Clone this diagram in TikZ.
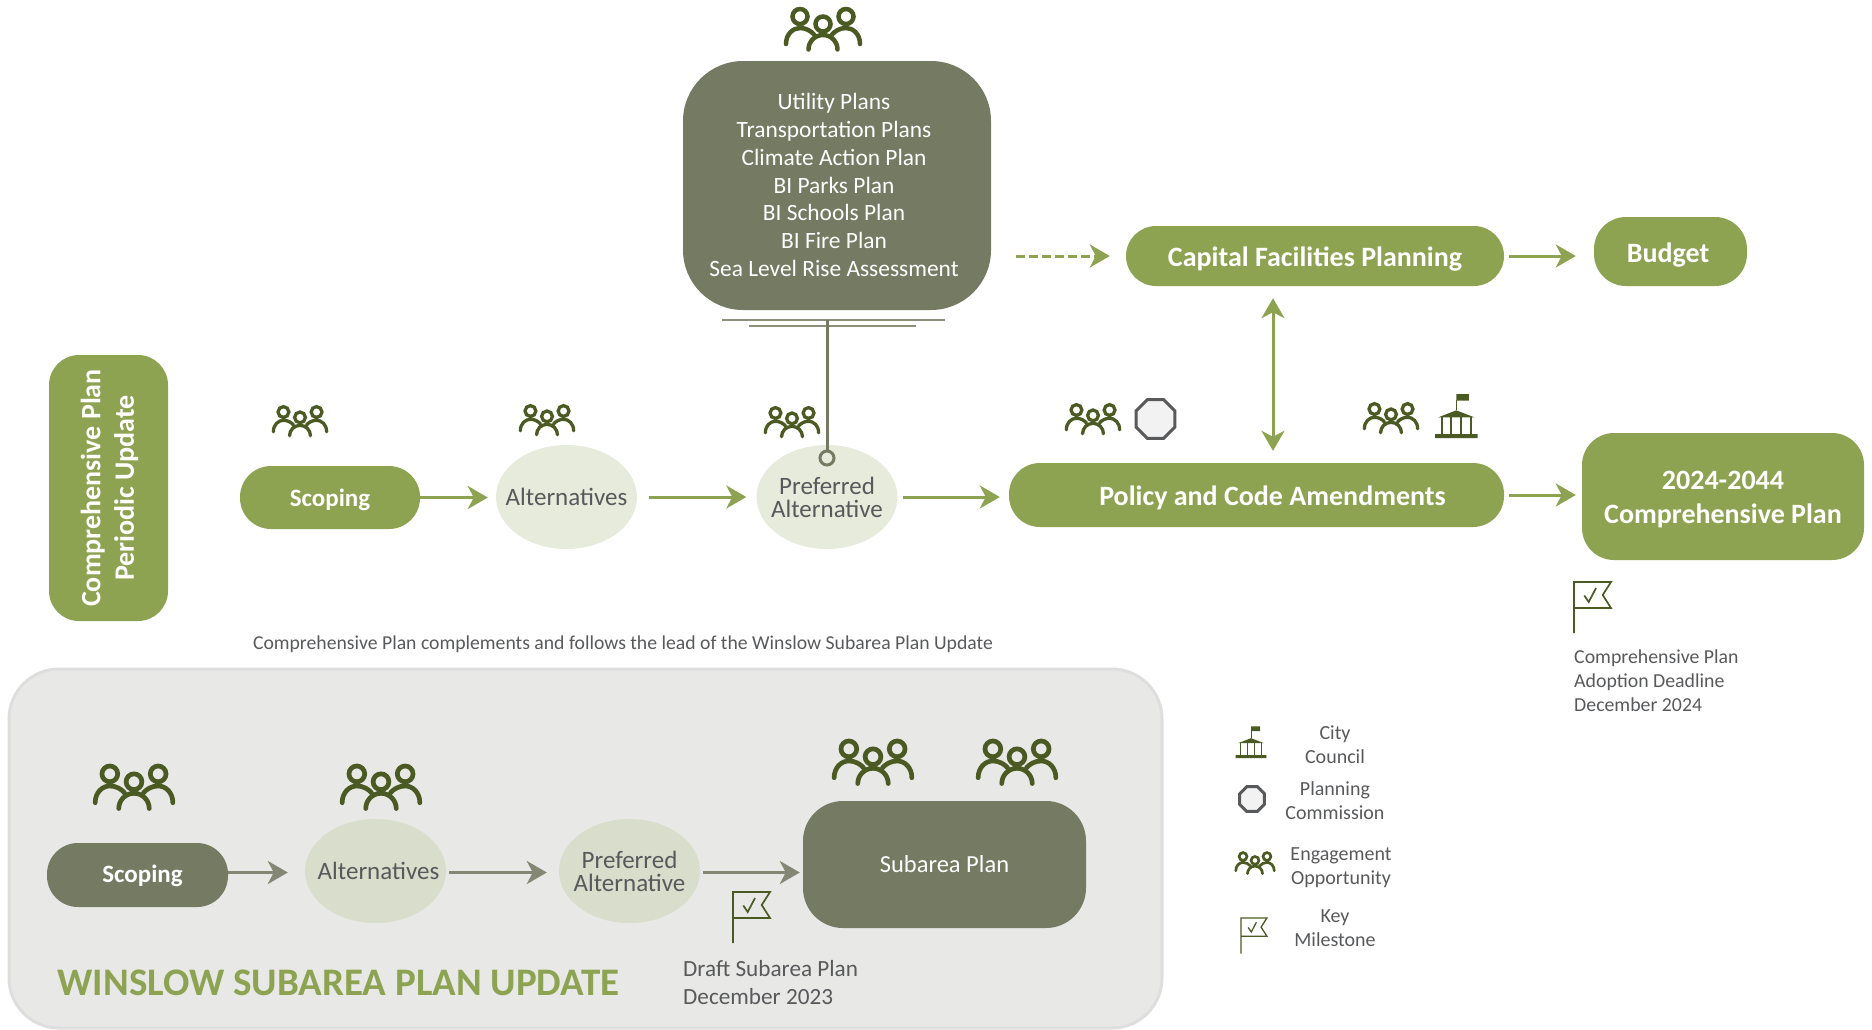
\documentclass[tikz,border=0pt]{standalone}
\usepackage{fontspec}
\setmainfont{Carlito}
\usetikzlibrary{arrows.meta,shapes.geometric}
\definecolor{leaf}{HTML}{8DA352}
\definecolor{olive}{HTML}{757A63}
\definecolor{icon}{HTML}{4B5A22}
\definecolor{palegreen}{HTML}{E7EBDC}
\definecolor{sage}{HTML}{D9DDCB}
\definecolor{panelgray}{HTML}{E8E8E6}
\definecolor{inkgray}{HTML}{58595B}
\newcommand{\fs}[2]{\fontsize{#1}{#2}\selectfont}
\tikzset{
  pill/.style={rounded corners=#1,text=white,inner sep=0pt,align=center,font=\fs{28}{34}\bfseries},
  greenpill/.style={pill=#1,fill=leaf},
  lowered/.style={text height=#1,text depth=0pt},
  blob/.style={ellipse,minimum width=141pt,minimum height=104pt,inner xsep=-35pt,inner ysep=-5pt,text=inkgray,align=center,font=\fs{25}{23}},
  flow/.style={leaf,line width=3pt,-{Stealth[length=20pt,width=23pt,inset=6pt]}},
  subflow/.style={flow,draw=olive!90!white},
  note/.style={text=inkgray,inner sep=0pt},
  legendtext/.style={note,align=center,font=\fs{20}{24}},
  octagon/.style={regular polygon,regular polygon sides=8,fill=black!5,draw=inkgray,inner sep=0pt},
  pics/people/.style={code={
    \draw[icon,line cap=round,line width=#1]
      (-14.5,20.5) arc[start angle=180,delta angle=180,radius=14.5]
      (-37,15) .. controls (-37,5) and (-30,-1) .. (-23,-1) .. controls (-17,-1) and (-12,2) .. (-9,5.5)
      (37,15) .. controls (37,5) and (30,-1) .. (23,-1) .. controls (17,-1) and (12,2) .. (9,5.5)
      (-23,-12.5) circle(7.5) (23,-12.5) circle(7.5) (0,-5) circle(7.5);
  }},
  pics/hall/.style={code={
    \fill[icon] (-21.3,10.7) rectangle (21.3,14.7) (-18,-6) -- (0,-13) -- (18,-6) -- cycle
      (0,-29.3) rectangle (12.5,-22.7);
    \draw[icon,line width=.6pt] (0,-13) -- (0,-23);
    \foreach \x in {-14.5,-5,5,14.5}
      \draw[icon,line width=#1] (\x,-6) -- (\x,11);
  }},
  pics/milestone/.style={code={
    \draw[icon,line width=#1] (0,51) -- (0,0) -- (37,0) -- (28.7,13) -- (37,26) -- (0,26);
    \draw[icon,line width=#1] (10.3,13.5) -- (14.7,20) -- (22,6);
  }},
}
\begin{document}
\begin{tikzpicture}[x=1pt,y=-1pt]
  \useasboundingbox (0,0) rectangle (1872,1029);

  % winslow panel
  \draw[draw=black!13,fill=panelgray,line width=3pt,rounded corners=50pt] (9,669) rectangle (1162,1028);

  % main row
  \node[greenpill=30pt,minimum width=119pt,minimum height=266pt] (update) at (108.5,488) {};
  \node[rotate=90,text=white,align=center,inner sep=0pt,font=\fs{28}{33.5}\bfseries] (updatetext) at (109.5,488) {Comprehensive Plan\\Periodic Update};
  \node[greenpill=31pt,minimum width=180pt,minimum height=63pt,lowered=17pt,font=\fs{25}{30}\bfseries] (scoping) at (330,497.5) {Scoping};
  \node[blob,fill=palegreen] (alternatives) at (566.5,497) {Alternatives};
  \node[blob,fill=palegreen] (preferred) at (827,497) {Preferred\\Alternative};
  \node[greenpill=31pt,minimum width=495pt,minimum height=64pt,lowered=20pt] (policy) at (1256.5,495) {\hspace*{32pt}Policy and Code Amendments};
  \node[greenpill=32pt,minimum width=282pt,minimum height=127pt,font=\fs{28}{34.5}\bfseries] (compplan) at (1723,496.5) {\rule{0pt}{24pt}2024-2044\\Comprehensive Plan};

  % upper row
  \node[rounded corners=60pt,fill=olive,minimum width=308pt,minimum height=249pt] (plans) at (837,185.5) {};
  \node[text=white,align=center,inner sep=0pt,font=\fs{23.4}{27.7}] (planstext) at (834,185) {Utility Plans\\Transportation Plans\\Climate Action Plan\\BI Parks Plan\\BI Schools Plan\\BI Fire Plan\\Sea Level Rise Assessment};
  \node[greenpill=30pt,minimum width=378pt,minimum height=60pt,lowered=20pt] (capital) at (1315,256) {Capital Facilities Planning};
  \node[greenpill=32pt,minimum width=153pt,minimum height=69pt,lowered=22pt] (budget) at (1670.5,251.5) {Budget\hspace*{5pt}};

  \coordinate (ruletop) at (827,320);
  \node[circle,draw=olive,fill=palegreen,line width=3pt,minimum size=14pt,inner sep=0pt] (prefdot) at (827,458) {};
  \draw[olive!85!white,line width=1.5pt] (722,320) -- (945,320);
  \draw[olive!85!white,line width=1.5pt] (749,326) -- (916,326);
  \draw[olive,line width=3pt] (ruletop) -- (prefdot);

  % connectors
  \foreach \a/\b/\s/\e in {scoping/alternatives/0/8,alternatives/preferred/12/10,preferred/policy/5/9,policy/compplan/5/6,capital/budget/5/18}
    \draw[flow,shorten <=\s pt,shorten >=\e pt] (\a.east |- \a) -- (\a -| \b.west);
  \coordinate (twoway) at (1273,0);
  \draw[flow,<->,>={Stealth[length=20pt,width=23pt,inset=6pt]},shorten <=12pt,shorten >=12pt] (capital.south -| twoway) -- (policy.north -| twoway);
  \draw[flow,dashed,dash pattern=on 9pt off 4pt,shorten <=25pt,shorten >=16pt] (plans.east |- capital) -- (capital.west);

  % winslow row
  \node[pill=31pt,fill=olive,minimum width=181pt,minimum height=64pt,lowered=14pt,font=\fs{25}{30}\bfseries] (subscoping) at (137.5,875) {\hspace*{10pt}Scoping};
  \node[blob,fill=sage] (subalternatives) at (375.5,871) {\hspace*{6pt}Alternatives};
  \node[blob,fill=sage] (subpreferred) at (629.5,871) {Preferred\\Alternative};
  \node[rounded corners=40pt,fill=olive,minimum width=283pt,minimum height=127pt,text=white,font=\fs{24.5}{30}] (subarea) at (944.5,864.5) {Subarea Plan};
  \coordinate (sublevel) at (0,872.5);
  \foreach \a/\b/\s/\e in {subscoping/subalternatives/0/17,subalternatives/subpreferred/3/12,subpreferred/subarea/3/3}
    \draw[subflow,shorten <=\s pt,shorten >=\e pt] (\a.east |- sublevel) -- (\b.west |- sublevel);

  % engagement icons
  \foreach \x/\y/\s/\w in {823/29/1/4.5,300/421/.72/3.3,547/420/.72/3.3,792/422/.72/3.3,1093/419/.72/3.3,1391/418/.72/3.3,134/787/1.05/4.7,381/787/1.05/4.7,873/762/1.05/4.7,1017/762/1.05/4.7,1255/863/.52/2.7}
    \pic[scale=\s] at (\x,\y) {people=\w pt};

  % commission and council icons
  \node[octagon,minimum size=42pt,line width=3pt] (commission) at (1155.5,419) {};
  \node[octagon,minimum size=27pt,line width=3pt] (legendcommission) at (1252,799) {};
  \pic at (1456.3,423.3) {hall=2pt};
  \pic[scale=.72] at (1251,747.5) {hall=1.5pt};

  % milestones
  \pic at (733,892) {milestone=1.7pt};
  \pic at (1574,582) {milestone=1.7pt};
  \pic[scale=.7] at (1241,918) {milestone=1.3pt};

  % texts
  \node[note,font=\fs{19.7}{24}] (caption) at (623,644.5) {Comprehensive Plan complements and follows the lead of the Winslow Subarea Plan Update};
  \node[note,anchor=north west,align=left,font=\fs{19.8}{24}] (adoption) at (1574,650) {Comprehensive Plan\\Adoption Deadline\\December 2024};
  \node[note,anchor=north west,align=left,font=\fs{23.2}{28}] (draft) at (683,960) {Draft Subarea Plan\\December 2023};
  \node[text=leaf,inner sep=0pt,font=\fs{39}{44}\bfseries] (wintitle) at (338.5,983) {WINSLOW SUBAREA PLAN UPDATE};
  \node[legendtext] (legcouncil) at (1335,745) {City\\Council};
  \node[legendtext] (legcommission) at (1335,801) {Planning\\Commission};
  \node[legendtext] (legengage) at (1341,868) {Engagement\\Opportunity};
  \node[legendtext] (legkey) at (1335,928) {Key\\Milestone};
\end{tikzpicture}
\end{document}
